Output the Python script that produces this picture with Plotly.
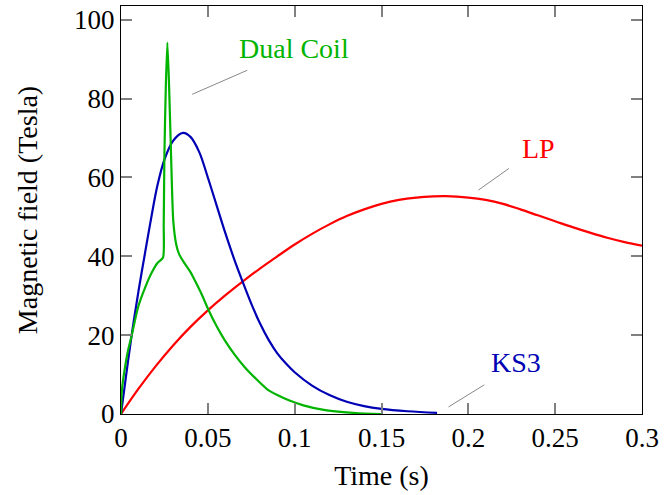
import plotly.graph_objects as go

# ---- data ----
dual_t = [0, 0.0005, 0.002, 0.004, 0.0061, 0.0099, 0.014, 0.0175, 0.021, 0.0242,
          0.0246, 0.025, 0.0258, 0.0267, 0.0277, 0.0288, 0.0301, 0.0318, 0.0335,
          0.0366, 0.04, 0.0424, 0.046, 0.0504, 0.055, 0.0596, 0.065, 0.071, 0.078,
          0.0844, 0.09, 0.097, 0.105, 0.116, 0.125, 0.135, 0.15]
dual_y = [0, 6, 11, 16, 19.8, 27.2, 32.2, 35.7, 38.3, 39.7,
          48, 66, 83, 94.2, 83, 66, 49, 43, 40.5,
          38.2, 36, 34, 30.8, 26.4, 22.3, 18.8, 15.3, 12, 8.8,
          6.2, 4.8, 3.4, 2.2, 1.1, 0.6, 0.25, 0]

ks3_t = [0, 0.003, 0.006, 0.01, 0.0135, 0.0175, 0.021, 0.025, 0.03, 0.0357,
         0.04, 0.045, 0.05, 0.055, 0.06, 0.065, 0.07, 0.075, 0.08, 0.085,
         0.09, 0.095, 0.1, 0.11, 0.12, 0.13, 0.14, 0.15, 0.165, 0.182]
ks3_y = [0, 10, 19.6, 31, 40, 50, 58, 64.5, 69.3, 71.3,
         70.3, 66.5, 60, 53, 46, 39.5, 33.6, 28, 23, 18.8,
         15.4, 12.8, 10.6, 7.2, 4.8, 3.1, 2.0, 1.3, 0.7, 0.3]

lp_t = [0, 0.01, 0.02, 0.03, 0.04, 0.05, 0.06, 0.07, 0.08, 0.09,
        0.1, 0.11, 0.12, 0.13, 0.14, 0.15, 0.16, 0.17, 0.18, 0.187,
        0.2, 0.21, 0.22, 0.23, 0.24, 0.25, 0.26, 0.27, 0.28, 0.29, 0.3]
lp_y = [0, 6.35, 12.15, 17.4, 22.1, 26.3, 30.1, 33.6, 36.9, 40.0,
        43.0, 45.7, 48.1, 50.2, 51.9, 53.3, 54.3, 54.9, 55.2, 55.25,
        54.9, 54.3, 53.3, 51.9, 50.4, 48.9, 47.4, 46.0, 44.7, 43.6, 42.7]

x_ticks = [0, 0.05, 0.1, 0.15, 0.2, 0.25, 0.3]
x_tick_labels = ["0", "0.05", "0.1", "0.15", "0.2", "0.25", "0.3"]
y_ticks = [0, 20, 40, 60, 80, 100]
y_tick_labels = ["0", "20", "40", "60", "80", "100"]

GREEN = "#00b400"
BLUE = "#0000b4"
RED = "#ff0000"
FONT = "Liberation Serif"

fig = go.Figure()
fig.add_trace(go.Scatter(x=lp_t, y=lp_y, mode="lines",
                         line=dict(color=RED, width=2.2, shape="spline", smoothing=1.0)))
fig.add_trace(go.Scatter(x=ks3_t, y=ks3_y, mode="lines",
                         line=dict(color=BLUE, width=2.2, shape="spline", smoothing=1.0)))
fig.add_trace(go.Scatter(x=dual_t, y=dual_y, mode="lines",
                         line=dict(color=GREEN, width=2.2, shape="spline", smoothing=0.6)))

# label leader lines
leaders = [((0.041, 81.1), (0.0727, 87.2)),
           ((0.2058, 56.8), (0.2234, 62.3)),
           ((0.1886, 1.8), (0.2092, 7.4))]
for (x0, y0), (x1, y1) in leaders:
    fig.add_shape(type="line", x0=x0, y0=y0, x1=x1, y1=y1, xref="x", yref="y",
                  line=dict(color="#888888", width=1))

labels = [("Dual Coil", 0.0998, 92.7, GREEN),
          ("LP", 0.2404, 67.4, RED),
          ("KS3", 0.2275, 13.0, BLUE)]
for txt, x, y, c in labels:
    fig.add_annotation(x=x, y=y, text=txt, showarrow=False, xanchor="center",
                       yanchor="middle", font=dict(family=FONT, size=28, color=c))

axis_common = dict(showgrid=False, zeroline=False, showline=True, linecolor="black",
                   linewidth=1, mirror="ticks", ticks="inside", ticklen=11,
                   tickwidth=1.5, tickcolor="#808080",
                   tickfont=dict(family=FONT, size=27, color="black"))

fig.update_layout(
    width=664, height=495,
    margin=dict(l=121, r=20, t=5, b=81),
    paper_bgcolor="white", plot_bgcolor="white",
    showlegend=False,
    xaxis=dict(range=[0, 0.3], tickvals=x_ticks, ticktext=x_tick_labels,
               title=dict(text="Time (s)", font=dict(family=FONT, size=28, color="black"),
                          standoff=12),
               **axis_common),
    yaxis=dict(range=[0, 103.5], tickvals=y_ticks, ticktext=y_tick_labels,
               title=dict(text="Magnetic field (Tesla)",
                          font=dict(family=FONT, size=28, color="black"), standoff=28),
               **axis_common),
)

fig.write_html("out.html")
